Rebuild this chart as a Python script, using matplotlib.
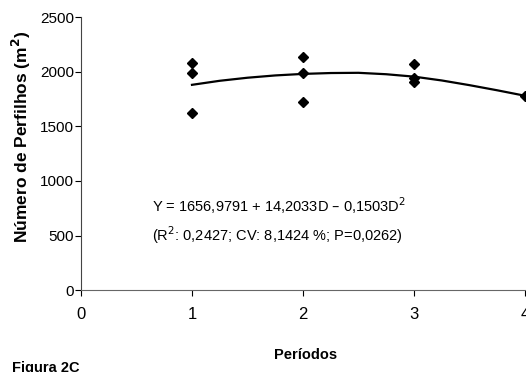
import matplotlib
matplotlib.use("Agg")
import matplotlib.pyplot as plt

plt.rcParams['font.family'] = ['Liberation Sans', 'DejaVu Sans']

# observed points per period
periods = [1, 1, 1, 2, 2, 2, 3, 3, 3, 4]
tillers = [2080, 1990, 1625, 2135, 1990, 1725, 2075, 1945, 1905, 1780]

# fitted curve
curve_x = [1, 1.25, 1.5, 1.75, 2, 2.25, 2.5, 2.75, 3, 3.25, 3.5, 3.75, 4]
curve_y = [1880, 1917, 1945, 1966, 1980, 1988, 1990, 1977, 1955, 1920, 1877, 1830, 1780]

fig = plt.figure(figsize=(5.26, 3.72), dpi=100)
ax = fig.add_axes([0.154, 0.22, 0.844, 0.734])

ax.plot(curve_x, curve_y, color='black', lw=1.6, zorder=2)
ax.plot(periods, tillers, 'D', color='black', markersize=5.5, zorder=3)

ax.set_xlim(0, 4)
ax.set_ylim(0, 2500)
ax.set_xticks([0, 1, 2, 3, 4])
ax.set_yticks([0, 500, 1000, 1500, 2000, 2500])
ax.tick_params(axis='x', labelsize=12, direction='out', length=4, pad=8)
ax.tick_params(axis='y', labelsize=11, direction='out', length=4, pad=1)
for s in ['top', 'right']:
    ax.spines[s].set_visible(False)
ax.spines['bottom'].set_color('#666666')
ax.spines['left'].set_color('#444444')

ax.set_ylabel('Número de Perfilhos (m$^{\\mathbf{2}}$)', fontsize=12.5, fontweight='bold')
ax.yaxis.set_label_coords(-0.108, 0.56)
fig.text(0.58, 1 - 355 / 372, 'Períodos', fontsize=10.5, fontweight='bold', ha='center', va='center')
fig.text(12 / 526, 1 - 368 / 372, 'Figura 2C', fontsize=10.5, fontweight='bold', ha='left', va='center')

ax.text(0.64, 778, 'Y = 1656,9791 + 14,2033D – 0,1503D$^2$', fontsize=10.5, va='center', ha='left')
ax.text(0.64, 504, '(R$^2$: 0,2427; CV: 8,1424 %; P=0,0262)', fontsize=10.5, va='center', ha='left')

fig.savefig('out.png', dpi=100)
